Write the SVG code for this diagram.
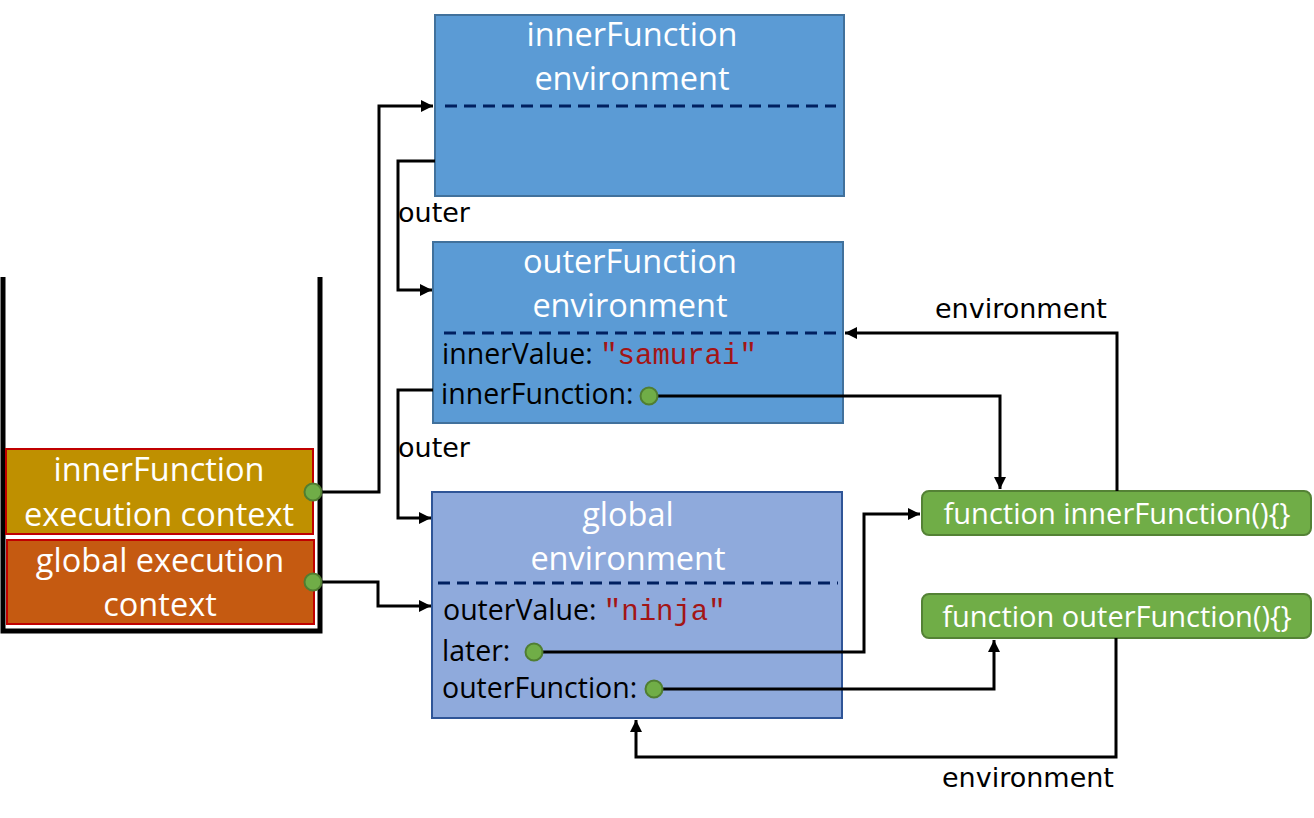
<svg xmlns="http://www.w3.org/2000/svg" width="1314" height="818" viewBox="0 0 1314 818">
<style>
.title{font-family:"Open Sans","Noto Sans",sans-serif;font-size:32.5px;fill:#fff;text-anchor:middle}
.ec{font-family:"Open Sans","Noto Sans",sans-serif;font-size:32.5px;fill:#fff;text-anchor:middle}
.field{font-family:"Open Sans","Noto Sans",sans-serif;font-size:28.5px;fill:#000}
.str{font-family:"Liberation Mono","DejaVu Sans Mono",monospace;font-size:29px;fill:#A31515}
.lbl{font-family:"DejaVu Sans",sans-serif;font-size:27px;fill:#000}
.fn{font-family:"Open Sans","Noto Sans",sans-serif;font-size:29px;fill:#fff;text-anchor:middle}
.dot{fill:#70AD47;stroke:#507E32;stroke-width:2}
.dash{stroke:#002060;stroke-width:3;stroke-dasharray:12,7;fill:none}
.conn{fill:none;stroke:#000;stroke-width:3}
</style>
<defs>
<marker id="arr" viewBox="0 0 10 10" refX="10" refY="5" markerWidth="4" markerHeight="4" orient="auto" markerUnits="strokeWidth">
<path d="M0,0 L10,5 L0,10 z" fill="#000"/>
</marker>
</defs>
<rect width="1314" height="818" fill="#fff"/>

<g id="stack">
<path d="M3 277 V631 H320 V277" fill="none" stroke="#000" stroke-width="5"/>
</g>

<g id="innerEC">
<rect x="6" y="449" width="307" height="85" fill="#BF9000" stroke="#C00000" stroke-width="2"/>
<text class="ec" x="159" y="481">innerFunction</text>
<text class="ec" x="159" y="526">execution context</text>
</g>

<g id="globalEC">
<rect x="7" y="540" width="307" height="84" fill="#C55A11" stroke="#C00000" stroke-width="2"/>
<text class="ec" x="160" y="572">global execution</text>
<text class="ec" x="160" y="616">context</text>
</g>

<g id="innerEnv">
<rect x="435" y="15" width="409" height="181" fill="#5B9BD5" stroke="#41719C" stroke-width="2"/>
<text class="title" x="632" y="46">innerFunction</text>
<text class="title" x="632" y="90">environment</text>
<line class="dash" x1="445" y1="106" x2="836" y2="106"/>
</g>

<g id="outerEnv">
<rect x="433" y="242" width="410" height="181" fill="#5B9BD5" stroke="#41719C" stroke-width="2"/>
<text class="title" x="630" y="273">outerFunction</text>
<text class="title" x="630" y="317">environment</text>
<line class="dash" x1="444" y1="333" x2="836" y2="333"/>
<text class="field" x="442" y="364">innerValue: <tspan class="str">"samurai"</tspan></text>
<text class="field" x="441" y="404">innerFunction:</text>
</g>

<g id="globalEnv">
<rect x="432" y="492" width="410" height="226" fill="#8FAADC" stroke="#2F5597" stroke-width="2"/>
<text class="title" x="628" y="526">global</text>
<text class="title" x="628" y="570">environment</text>
<line class="dash" x1="438" y1="583" x2="838" y2="583"/>
<text class="field" x="443" y="620">outerValue: <tspan class="str">"ninja"</tspan></text>
<text class="field" x="442" y="661">later:</text>
<text class="field" x="442" y="698">outerFunction:</text>
</g>

<g id="fnInner">
<rect x="922" y="491" width="389" height="44" rx="7" fill="#70AD47" stroke="#548235" stroke-width="2"/>
<text class="fn" x="1117" y="524">function innerFunction(){}</text>
</g>

<g id="fnOuter">
<rect x="922" y="594" width="389" height="44" rx="7" fill="#70AD47" stroke="#548235" stroke-width="2"/>
<text class="fn" x="1117" y="627">function outerFunction(){}</text>
</g>

<g id="connectors">
<path class="conn" d="M313 492 H379 V106 H433" marker-end="url(#arr)"/>
<path class="conn" d="M313 582 H378 V606 H431" marker-end="url(#arr)"/>
<path class="conn" d="M435 161 H398 V290 H432" marker-end="url(#arr)"/>
<path class="conn" d="M433 390 H398 V518 H431" marker-end="url(#arr)"/>
<path class="conn" d="M649 396 H1000 V489" marker-end="url(#arr)"/>
<path class="conn" d="M534 652 H864 V514 H920" marker-end="url(#arr)"/>
<path class="conn" d="M654 689 H994 V640" marker-end="url(#arr)"/>
<path class="conn" d="M1117 491 V333 H845" marker-end="url(#arr)"/>
<path class="conn" d="M1116 638 V757 H636 V720" marker-end="url(#arr)"/>
<text class="lbl" x="398" y="222">outer</text>
<text class="lbl" x="398" y="457">outer</text>
<text class="lbl" x="935" y="318">environment</text>
<text class="lbl" x="942" y="787">environment</text>
</g>

<g id="dots">
<circle class="dot" cx="313" cy="492" r="8.5"/>
<circle class="dot" cx="313" cy="582" r="8.5"/>
<circle class="dot" cx="649" cy="396" r="8.5"/>
<circle class="dot" cx="534" cy="652" r="8.5"/>
<circle class="dot" cx="654" cy="689" r="8.5"/>
</g>
</svg>
